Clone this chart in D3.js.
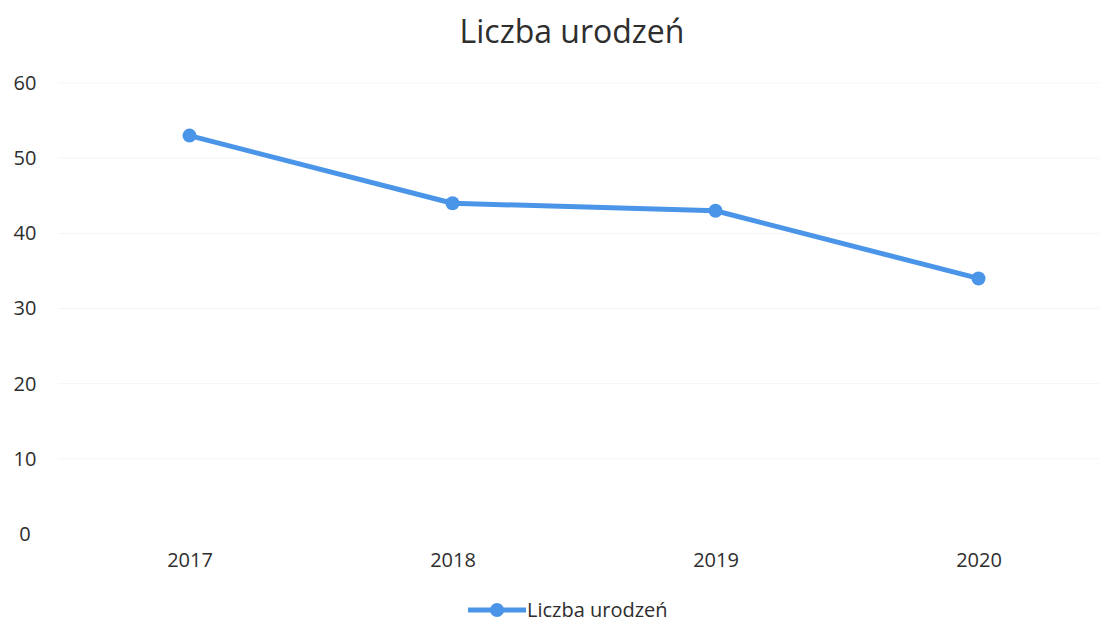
<!DOCTYPE html>
<html>
<head>
<meta charset="utf-8">
<script src="https://cdn.jsdelivr.net/npm/d3@7"></script>
<style>
  body { margin: 0; background: #fff; }
  svg text { font-family: "Open Sans", "Noto Sans", sans-serif; fill: #2e2e2e; }
</style>
</head>
<body>
<svg></svg>
<script>
let width = 1099
let height = 625

const years = ['2017', '2018', '2019', '2020']
const births = [53, 44, 43, 34]
const yTicks = [0, 10, 20, 30, 40, 50, 60]
const seriesName = 'Liczba urodzeń'

let lineColor = '#4b95e9'

let xScale = d3.scalePoint()
                .domain(years)
                .range([58, 1110])
                .padding(0.5)

let yScale = d3.scaleLinear()
                .domain([0, 60])
                .range([534, 83])

let svg = d3.select('svg')
    .attr('width', width)
    .attr('height', height)

// faint gridlines (mostly washed out in the scan)
svg.append('g')
  .selectAll('line')
  .data(yTicks.slice(1))
  .enter()
  .append('line')
    .attr('x1', 58)
    .attr('x2', 1099)
    .attr('y1', d => yScale(d))
    .attr('y2', d => yScale(d))
    .attr('stroke', '#f5f5f5')
    .attr('stroke-width', 1)

// y axis labels
let yAxis = svg.append('g')
    .attr('transform', 'translate(38,0)')
    .call(d3.axisLeft(yScale).tickValues(yTicks).tickSize(0).tickPadding(0))
yAxis.select('.domain').remove()
yAxis.selectAll('text')
    .attr('font-size', 20)
    .attr('text-anchor', 'middle')
    .attr('dx', -13)

// x axis labels
let xAxis = svg.append('g')
    .attr('transform', 'translate(0,553)')
    .call(d3.axisBottom(xScale).tickSize(0).tickPadding(0))
xAxis.select('.domain').remove()
xAxis.selectAll('text')
    .attr('font-size', 20)
    .attr('dy', '0.7em')

// title
svg.append('text')
    .attr('x', 572)
    .attr('y', 43)
    .attr('text-anchor', 'middle')
    .attr('font-size', 32)
    .text(seriesName)

// line
let line = d3.line()
    .x((d, i) => xScale(years[i]))
    .y(d => yScale(d))

svg.append('path')
    .datum(births)
    .attr('d', line)
    .attr('fill', 'none')
    .attr('stroke', lineColor)
    .attr('stroke-width', 5)
    .attr('stroke-linejoin', 'round')

svg.append('g')
  .selectAll('circle')
  .data(births)
  .enter()
  .append('circle')
    .attr('cx', (d, i) => xScale(years[i]))
    .attr('cy', d => yScale(d))
    .attr('r', 7)
    .attr('fill', lineColor)

// legend
let legend = svg.append('g').attr('transform', 'translate(468,610)')
legend.append('line')
    .attr('x1', 0).attr('x2', 58)
    .attr('stroke', lineColor)
    .attr('stroke-width', 5)
legend.append('circle')
    .attr('cx', 29)
    .attr('r', 7)
    .attr('fill', lineColor)
legend.append('text')
    .attr('x', 59)
    .attr('dy', '0.35em')
    .attr('font-size', 20)
    .text(seriesName)
</script>
</body>
</html>
